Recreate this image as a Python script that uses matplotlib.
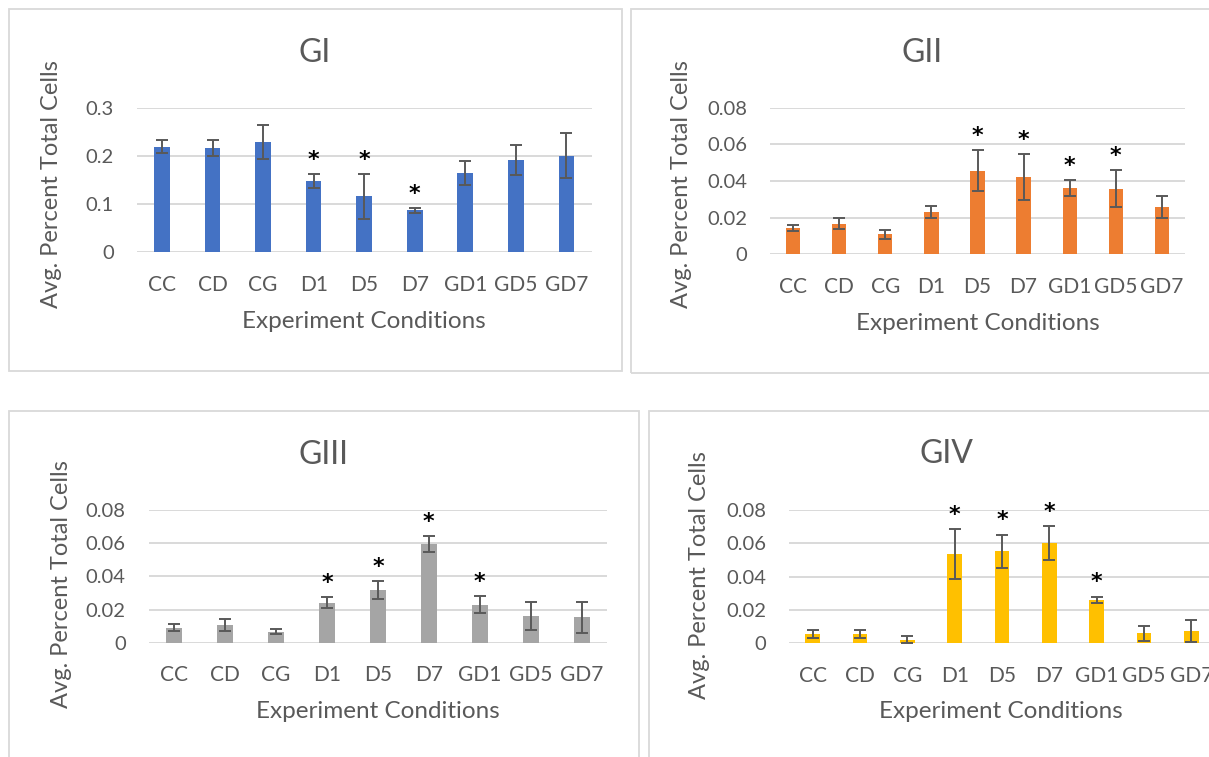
import matplotlib
matplotlib.use("Agg")
import matplotlib.pyplot as plt
from matplotlib.patches import Rectangle

plt.rcParams['font.family'] = ['Lato', 'DejaVu Sans']

conditions = ["CC", "CD", "CG", "D1", "D5", "D7", "GD1", "GD5", "GD7"]

gi_mean = [0.219, 0.216, 0.229, 0.148, 0.116, 0.087, 0.164, 0.191, 0.200]
gi_err = [0.013, 0.016, 0.036, 0.014, 0.046, 0.0055, 0.0245, 0.031, 0.0465]
gi_star = ["D1", "D5", "D7"]

gii_mean = [0.0145, 0.0167, 0.0109, 0.0230, 0.0455, 0.0420, 0.0361, 0.0358, 0.0257]
gii_err = [0.0017, 0.0030, 0.0026, 0.0031, 0.0112, 0.0125, 0.0044, 0.0100, 0.0060]
gii_star = ["D5", "D7", "GD1", "GD5"]

giii_mean = [0.0090, 0.0107, 0.0066, 0.0241, 0.0318, 0.0595, 0.0229, 0.0161, 0.0153]
giii_err = [0.0022, 0.0037, 0.0015, 0.0033, 0.0055, 0.0049, 0.0051, 0.0086, 0.0092]
giii_star = ["D1", "D5", "D7", "GD1"]

giv_mean = [0.0056, 0.0056, 0.0022, 0.0535, 0.0553, 0.0602, 0.0260, 0.0060, 0.0074]
giv_err = [0.0023, 0.0026, 0.0021, 0.0150, 0.0099, 0.0103, 0.0020, 0.0045, 0.0064]
giv_star = ["D1", "D5", "D7", "GD1"]

W, H = 1209, 757
TXT = "#595959"
GRID = "#D9D9D9"

fig = plt.figure(figsize=(W / 100, H / 100), dpi=100)


def fx(x):
    return x / W


def fy(y):
    return 1 - y / H


def panel_box(x0, y0, x1, y1):
    fig.patches.append(Rectangle((fx(x0), fy(y1)), fx(x1) - fx(x0), fy(y0) - fy(y1),
                                 transform=fig.transFigure, facecolor="none",
                                 edgecolor=GRID, lw=1.3, zorder=0))


def draw_panel(title, means, errs, stars, color, ymax, step, box, ax_px, title_xy, ylab_xy, xlab_xy):
    panel_box(*box)
    x0, y0, x1, y1 = ax_px
    ax = fig.add_axes([fx(x0), fy(y1), fx(x1) - fx(x0), fy(y0) - fy(y1)])
    xs = list(range(len(conditions)))
    ax.bar(xs, means, width=0.31, color=color, zorder=2)
    ax.errorbar(xs, means, yerr=errs, fmt="none", ecolor=TXT, elinewidth=1.4,
                capsize=4.5, capthick=1.4, zorder=3)
    for name in stars:
        i = conditions.index(name)
        ax.annotate("*", xy=(i, means[i] + errs[i]), xytext=(0, 3),
                    textcoords="offset points", ha="center", va="bottom",
                    fontsize=16, fontweight="bold", color="black",
                    family="DejaVu Sans")
    ax.set_xlim(-0.5, len(conditions) - 0.5)
    ax.set_ylim(0, ymax)
    ticks = [round(k * step, 3) for k in range(int(round(ymax / step)) + 1)]
    ax.set_yticks(ticks)
    ax.set_yticklabels(["0" if t == 0 else f"{t:g}" for t in ticks])
    ax.set_xticks(xs)
    ax.set_xticklabels(conditions)
    ax.grid(axis="y", color=GRID, lw=1.4, zorder=0)
    ax.set_axisbelow(True)
    for s in ax.spines.values():
        s.set_visible(False)
    ax.tick_params(axis="both", length=0, colors=TXT)
    ax.tick_params(axis="y", pad=16.5, labelsize=14.5)
    ax.tick_params(axis="x", pad=16, labelsize=15)
    fig.text(fx(title_xy[0]), fy(title_xy[1]), title, ha="center", va="center",
             fontsize=23, color=TXT)
    fig.text(fx(ylab_xy[0]), fy(ylab_xy[1]), "Avg. Percent Total Cells", ha="center",
             va="center", rotation=90, fontsize=17, color=TXT)
    fig.text(fx(xlab_xy[0]), fy(xlab_xy[1]), "Experiment Conditions", ha="center",
             va="center", fontsize=17.5, color=TXT)
    return ax


draw_panel("GI", gi_mean, gi_err, gi_star, "#4472C4", 0.3, 0.1,
           (8.5, 9, 621.7, 370.7), (136.7, 107.7, 591.7, 252.3),
           (315, 53), (52, 184), (364, 322))
draw_panel("GII", gii_mean, gii_err, gii_star, "#ED7D31", 0.08, 0.02,
           (631, 9, 1230, 373.3), (770, 107.7, 1185, 254.3),
           (922, 53), (682, 184), (978, 324))
draw_panel("GIII", giii_mean, giii_err, giii_star, "#A5A5A5", 0.08, 0.02,
           (9, 411, 638.7, 800), (148.6, 510, 607.2, 642.7),
           (323.6, 455), (62, 584), (377.7, 712))
draw_panel("GIV", giv_mean, giv_err, giv_star, "#FFC000", 0.08, 0.02,
           (649.3, 411, 1230, 800), (789, 510, 1215, 643.3),
           (946.6, 454), (700, 575), (1001, 712))

fig.savefig("out.png", dpi=100)
